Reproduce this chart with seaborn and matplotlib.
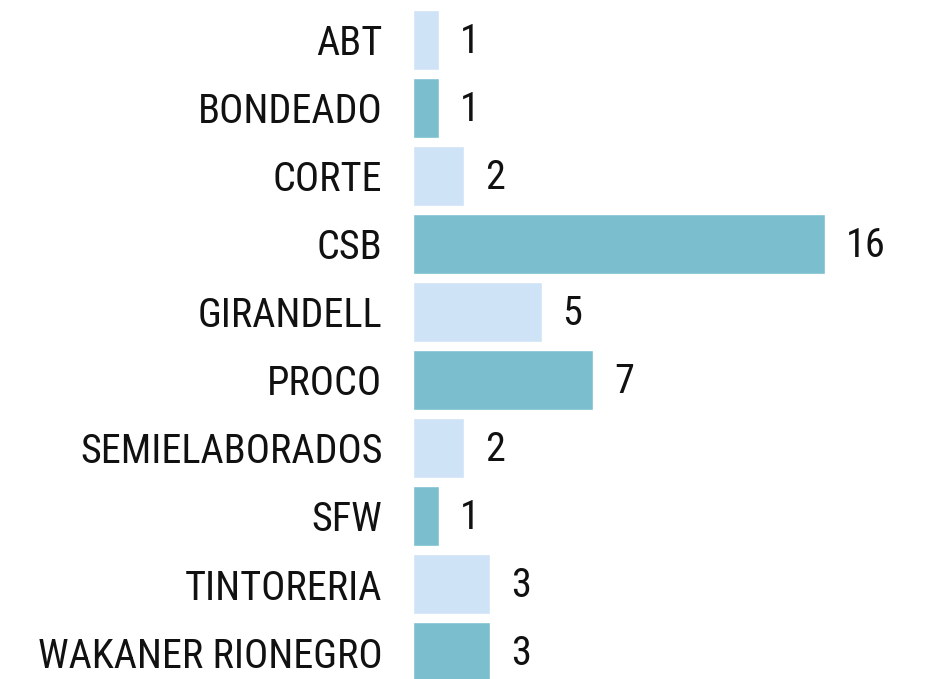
import matplotlib
matplotlib.use("Agg")
import matplotlib.pyplot as plt
import seaborn as sns
import pandas as pd

categories = ["ABT", "BONDEADO", "CORTE", "CSB", "GIRANDELL", "PROCO",
              "SEMIELABORADOS", "SFW", "TINTORERIA", "WAKANER RIONEGRO"]
counts = [1, 1, 2, 16, 5, 7, 2, 1, 3, 3]
light, teal = "#cfe3f7", "#7bbfcf"
colors = [light if i % 2 == 0 else teal for i in range(len(categories))]

df = pd.DataFrame({"cat": categories, "n": counts})

sns.set_style("white")
plt.rcParams["font.family"] = ["Roboto Condensed", "Liberation Sans Narrow", "Roboto", "DejaVu Sans"]

fig = plt.figure(figsize=(9.26, 6.79), dpi=100)
ax = fig.add_axes([0.446, 0.0, 0.5005, 1.0])
sns.barplot(data=df, x="n", y="cat", hue="cat", palette=colors, legend=False,
            saturation=1, width=0.88, edgecolor="white", linewidth=1, ax=ax)

for i, v in enumerate(counts):
    ax.annotate(str(v), (v, i), xytext=(15, -1), textcoords="offset points",
                va="center", ha="left", fontsize=29, color="#111111")

ax.set_xlim(0, 18)
ax.set_ylim(9.397, -0.588)
ax.set_xlabel("")
ax.set_ylabel("")
ax.set_xticks([])
ax.tick_params(axis="y", length=0, pad=22, labelsize=29, labelcolor="#111111")
for lab in ax.get_yticklabels():
    lab.set_y(lab.get_position()[1])
sns.despine(ax=ax, left=True, bottom=True)

fig.savefig("out.png", dpi=100)
